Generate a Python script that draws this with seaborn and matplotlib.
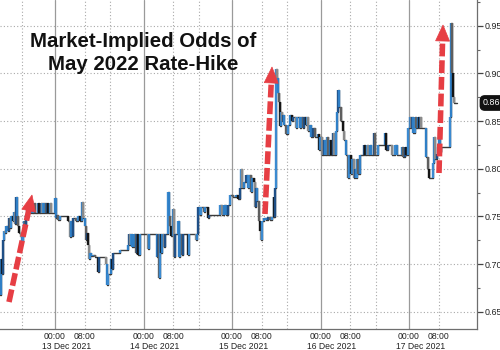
import numpy as np
import pandas as pd
import matplotlib
matplotlib.use("Agg")
import matplotlib.pyplot as plt
import matplotlib.dates as mdates
import matplotlib.transforms as mtrans
from matplotlib.patches import Polygon
from matplotlib.ticker import FuncFormatter, NullFormatter, FixedLocator, MultipleLocator
import seaborn as sns

# ---------------- data ----------------
title_lines = ["Market-Implied Odds of", "May 2022 Rate-Hike"]

# hours relative to 13 Dec 2021 00:00
hours = [
    -14.9, -14.6, -14.4, -14.1, -13.8, -13.6, -13.3, -12.7, -12.5, -12.2,
    -11.9, -11.4, -11.1, -10.8, -10.6, -10.3, -10.0, -9.8, -9.2, -8.9,
    -8.7, -8.4, -8.1, -7.9, -7.6, -7.3, -7.1, -6.8, -6.5, -6.2,
    -5.7, -5.4, -4.6, -4.4, -3.8, -3.5, -3.3, -3.0, -2.7, -2.4,
    -2.2, -1.9, -1.4, -1.1, 0.0, 0.3, 0.5, 0.8, 1.4, 3.5,
    4.1, 4.3, 4.6, 4.9, 5.7, 6.2, 6.8, 7.3, 7.6, 8.1,
    8.4, 8.7, 8.9, 9.2, 9.5, 9.8, 10.3, 10.8, 11.7, 11.9,
    13.8, 14.1, 14.4, 14.9, 15.2, 15.5, 15.7, 17.6, 19.8, 20.1,
    20.3, 20.6, 20.9, 21.4, 22.0, 22.2, 22.5, 23.1, 25.2, 25.5,
    27.7, 27.9, 28.2, 28.5, 28.7, 29.0, 29.6, 29.8, 30.6, 30.9,
    31.2, 31.5, 32.0, 32.3, 32.5, 33.4, 33.6, 33.9, 34.4, 34.7,
    36.1, 36.3, 38.2, 38.5, 38.8, 39.3, 39.6, 40.4, 40.7, 41.5,
    41.8, 44.7, 45.3, 45.8, 46.4, 46.9, 47.5, 48.3, 49.1, 49.6,
    50.2, 50.4, 50.7, 51.3, 51.8, 52.3, 52.6, 53.2, 53.4, 54.0,
    54.2, 54.5, 54.8, 55.3, 55.6, 55.9, 56.1, 56.7, 57.2, 57.8,
    58.3, 58.8, 59.4, 59.5, 59.7, 59.9, 60.2, 60.5, 60.7, 61.0,
    61.3, 61.6, 61.8, 62.1, 62.6, 63.2, 63.7, 64.3, 64.5, 65.4,
    65.6, 66.4, 66.7, 67.3, 67.5, 68.1, 68.3, 68.6, 69.2, 69.4,
    70.0, 70.5, 71.3, 71.6, 71.9, 72.4, 73.0, 73.2, 73.8, 74.0,
    74.6, 74.9, 75.4, 75.7, 76.2, 76.5, 76.7, 77.0, 77.6, 78.1,
    78.4, 78.9, 79.5, 79.7, 80.3, 80.5, 81.1, 81.4, 81.6, 81.9,
    82.2, 82.7, 83.8, 84.1, 84.6, 84.9, 85.4, 85.7, 86.5, 86.8,
    87.6, 89.5, 89.8, 90.3, 91.4, 92.2, 92.7, 94.1, 94.4, 94.9,
    95.2, 95.7, 96.3, 96.5, 96.8, 97.1, 97.6, 97.9, 98.4, 98.7,
    99.0, 99.3, 100.6, 101.2, 101.4, 102.5, 102.8, 103.1, 103.6, 103.9,
    104.1, 104.4, 104.7, 107.1, 107.4, 107.7, 107.9, 108.2, 109.0,
]
odds = [
    0.668, 0.705, 0.690, 0.725, 0.735, 0.733, 0.740, 0.735, 0.748, 0.738,
    0.750, 0.745, 0.755, 0.742, 0.770, 0.750, 0.740, 0.733, 0.728, 0.724,
    0.730, 0.745, 0.740, 0.752, 0.757, 0.762, 0.755, 0.754, 0.764, 0.754,
    0.764, 0.754, 0.764, 0.754, 0.764, 0.754, 0.764, 0.754, 0.764, 0.754,
    0.764, 0.754, 0.764, 0.754, 0.769, 0.748, 0.752, 0.746, 0.750, 0.745,
    0.728, 0.745, 0.730, 0.748, 0.745, 0.750, 0.745, 0.765, 0.748, 0.740,
    0.725, 0.733, 0.720, 0.705, 0.712, 0.709, 0.710, 0.7075, 0.692, 0.7075,
    0.700, 0.678, 0.690, 0.690, 0.705, 0.695, 0.712, 0.715, 0.720, 0.7316,
    0.720, 0.7316, 0.718, 0.7316, 0.712, 0.7316, 0.710, 0.7316, 0.716, 0.7316,
    0.708, 0.7316, 0.686, 0.7316, 0.712, 0.7316, 0.718, 0.7316, 0.776, 0.750,
    0.740, 0.730, 0.758, 0.708, 0.7316, 0.745, 0.708, 0.7316, 0.710, 0.7316,
    0.710, 0.7316, 0.725, 0.7316, 0.760, 0.752, 0.760, 0.755, 0.760, 0.748,
    0.7516, 0.762, 0.7516, 0.762, 0.7516, 0.762, 0.7725, 0.770, 0.772, 0.768,
    0.780, 0.800, 0.780, 0.786, 0.793, 0.780, 0.793, 0.776, 0.790, 0.786,
    0.760, 0.780, 0.766, 0.745, 0.735, 0.725, 0.745, 0.748, 0.746, 0.749,
    0.746, 0.749, 0.770, 0.749, 0.780, 0.905, 0.895, 0.880, 0.870, 0.845,
    0.860, 0.850, 0.856, 0.846, 0.836, 0.846, 0.856, 0.850, 0.854, 0.843,
    0.854, 0.843, 0.854, 0.843, 0.854, 0.846, 0.854, 0.840, 0.846, 0.833,
    0.843, 0.833, 0.836, 0.820, 0.833, 0.8145, 0.830, 0.8145, 0.833, 0.8145,
    0.830, 0.8145, 0.8375, 0.8145, 0.840, 0.860, 0.883, 0.865, 0.850, 0.840,
    0.830, 0.8145, 0.790, 0.8145, 0.795, 0.810, 0.790, 0.800, 0.790, 0.810,
    0.795, 0.8145, 0.825, 0.8145, 0.825, 0.8145, 0.825, 0.8145, 0.8375, 0.8145,
    0.825, 0.8375, 0.820, 0.825, 0.8145, 0.825, 0.8145, 0.823, 0.812, 0.823,
    0.8145, 0.843, 0.854, 0.843, 0.854, 0.838, 0.854, 0.843, 0.854, 0.843,
    0.854, 0.843, 0.812, 0.800, 0.790, 0.806, 0.833, 0.810, 0.815, 0.823,
    0.833, 0.818, 0.823, 0.854, 0.953, 0.900, 0.875, 0.869, 0.869,
]
y_ticks = [0.65, 0.70, 0.75, 0.80, 0.85, 0.90, 0.95]
day_labels = ["13 Dec 2021", "14 Dec 2021", "15 Dec 2021", "16 Dec 2021", "17 Dec 2021"]
time_labels = ["00:00", "08:00"]

# ---------------- figure ----------------
base = pd.Timestamp("2021-12-13 00:00")
times = base + pd.to_timedelta(hours, unit="h")
df = pd.DataFrame({"time": times, "odds": odds})

sns.set_style("white")
plt.rcParams["font.family"] = ["Liberation Sans", "DejaVu Sans"]

FW, FH = 500, 350
AX_W, AX_H, AX_B = 477, 329, 21
fig = plt.figure(figsize=(FW / 100, FH / 100), dpi=100)
ax = fig.add_axes([0, AX_B / FH, AX_W / FW, AX_H / FH])

x0 = base - pd.Timedelta(hours=14.92)
x1 = base + pd.Timedelta(hours=114.44)
ax.set_xlim(x0, x1)
ax.set_ylim(0.632, 0.977)

grid_col = "#a9a9a9"
for v in y_ticks:
    ax.axhline(v, color=grid_col, lw=0.8, ls=(0, (1, 2)), zorder=0)
days = pd.date_range("2021-12-12", "2021-12-17", freq="D")
for d in days:
    ax.axvline(d, color="#9a9a9a", lw=0.9, zorder=0)
    ax.axvline(d + pd.Timedelta(hours=8), color=grid_col, lw=0.8, ls=(0, (1, 2)), zorder=0)
seps = pd.date_range("2021-12-12 15:00", periods=5, freq="D")
for s in seps:
    ax.axvline(s, color=grid_col, lw=0.8, ls=(0, (1, 2)), zorder=0)

# step line
n_before = len(ax.get_lines())
sns.lineplot(data=df, x="time", y="odds", drawstyle="steps-post", color="#3a3a3a",
             lw=1.0, estimator=None, legend=False, ax=ax, zorder=3)
for ln in ax.get_lines()[n_before:]:
    ln.set_color("#3a3a3a")
prev = np.array(odds[:-1])
cur = np.array(odds[1:])
cols = []
ku = kd = 0
for p, c in zip(prev, cur):
    if c > p:
        cols.append(["#2f7fc6", "#1f4f86", "#3b8ad0"][ku % 3])
        ku += 1
    else:
        cols.append(["#151515", "#8a8a8a", "#2f7fc6", "#5f5f5f"][kd % 4])
        kd += 1
ax.vlines(times[1:], np.minimum(prev, cur), np.maximum(prev, cur), colors=cols,
          lw=1.7, zorder=4)

# axes styling
for side in ["top", "left"]:
    ax.spines[side].set_visible(False)
for side in ["right", "bottom"]:
    ax.spines[side].set_visible(True)
    ax.spines[side].set_color("#6e6e6e")
    ax.spines[side].set_linewidth(0.9)
ax.set_xlabel("")
ax.set_ylabel("")

ax.yaxis.tick_right()
ax.set_yticks(y_ticks)
ax.set_yticklabels([f"{v:.3f}" for v in y_ticks])
ax.yaxis.set_minor_locator(MultipleLocator(0.025))
ax.tick_params(axis="y", which="major", direction="out", length=4, width=0.9,
               color="#444444", labelsize=6.4, pad=1.5, labelcolor="#222222")
ax.tick_params(axis="y", which="minor", direction="out", length=2.5, width=0.8,
               color="#666666")

ax.xaxis.set_major_locator(FixedLocator(mdates.date2num(seps)))
ax.xaxis.set_major_formatter(NullFormatter())
minor = pd.date_range("2021-12-12 12:00", "2021-12-17 16:00", freq="4h")
ax.xaxis.set_minor_locator(FixedLocator(mdates.date2num(minor)))


def fmt(x, pos):
    t = mdates.num2date(x)
    lab = t.strftime("%H:%M")
    return lab if lab in time_labels else ""


ax.xaxis.set_minor_formatter(FuncFormatter(fmt))
ax.tick_params(axis="x", which="major", direction="out", length=15.5, width=0.9,
               color="#8a8a8a")
ax.tick_params(axis="x", which="minor", direction="out", length=1.5, width=0.8,
               color="#777777", labelsize=6.2, pad=0.6, labelcolor="#222222")

trans = mtrans.blended_transform_factory(ax.transData, ax.transAxes)
for d, lab in zip(days[1:], day_labels):
    ax.text(d + pd.Timedelta(hours=3), -17.5 / AX_H, lab, transform=trans, ha="center",
            va="center", fontsize=6.2, color="#222222", clip_on=False)

# last value tag
ax.annotate(f"{odds[-1]:.3f}", xy=(1, odds[-1]), xycoords=("axes fraction", "data"),
            xytext=(6, 0), textcoords="offset pixels", ha="left", va="center",
            fontsize=6.4, color="white", annotation_clip=False, zorder=10,
            bbox=dict(boxstyle="round,pad=0.3,rounding_size=0.5", fc="#111111",
                      ec="#111111"))

# red dashed arrows (annotation)
red = "#e63e44"


def pxa(x, y):
    return (x / AX_W, 1 - y / AX_H)


arrows = [((9, 302), (32, 195)), ((265, 214), (272, 67)), ((439, 173), (443, 25))]
for (tx, ty), (hx, hy) in arrows:
    dx, dy = hx - tx, hy - ty
    n = np.hypot(dx, dy)
    ux, uy = dx / n, dy / n
    L, hw = 16, 7
    bx, by = hx - ux * L, hy - uy * L
    px, py = -uy, ux
    head = Polygon([pxa(hx, hy), pxa(bx + px * hw, by + py * hw), pxa(bx - px * hw, by - py * hw)],
                   closed=True, transform=ax.transAxes, fc=red, ec=red, lw=0.5, zorder=8)
    ax.add_patch(head)
    sx, sy = pxa(tx, ty)
    ex, ey = pxa(bx + ux, by + uy)
    ax.plot([sx, ex], [sy, ey], transform=ax.transAxes, color=red, lw=4,
            ls=(0, (2.3, 0.7)), solid_capstyle="butt", dash_capstyle="butt", zorder=8)

# title
fig.text(143.5 / FW, 1 - 47 / FH, title_lines[0], ha="center", va="baseline",
         fontsize=14.7, fontweight="bold", color="#111111")
fig.text(143.5 / FW, 1 - 70 / FH, title_lines[1], ha="center", va="baseline",
         fontsize=14.7, fontweight="bold", color="#111111")

fig.savefig("out.png", dpi=100, facecolor="white")
